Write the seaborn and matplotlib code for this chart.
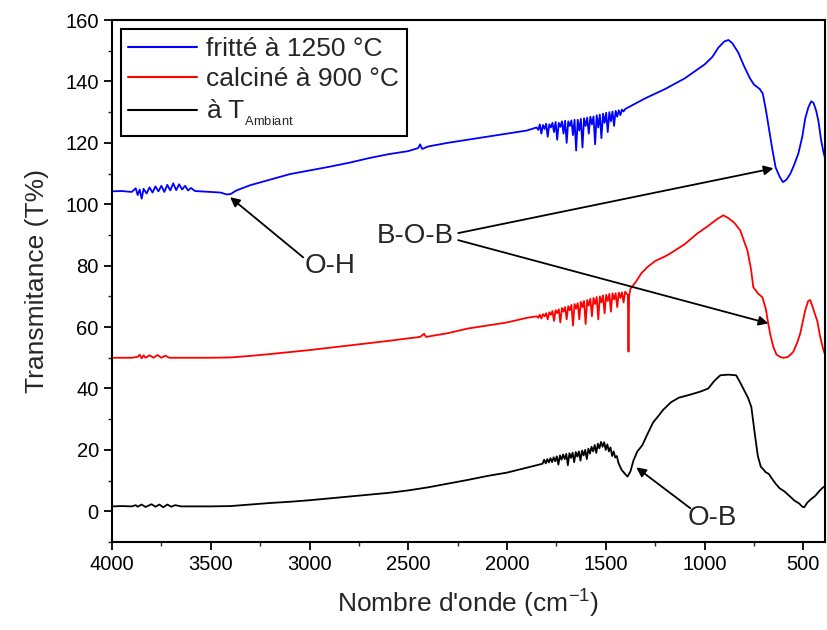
import matplotlib
matplotlib.use("Agg")
import matplotlib.pyplot as plt
from matplotlib.ticker import MultipleLocator
import seaborn as sns
import pandas as pd

# Spectre IR : échantillon fritté à 1250 °C
wn_fritte = [4000, 3950, 3900, 3880, 3870, 3860, 3850, 3840, 3825, 3810, 3795, 3780,
             3765, 3750, 3735, 3720, 3705, 3690, 3675, 3660, 3645, 3630, 3615, 3600,
             3580, 3550, 3500, 3450, 3420, 3400, 3370, 3300, 3200, 3100, 3000, 2900,
             2800, 2700, 2600, 2500, 2450, 2440, 2430, 2400, 2300, 2200, 2100, 2000,
             1900,
             1850, 1842, 1834, 1826, 1818, 1810, 1802, 1794, 1786, 1778, 1770, 1762,
             1754, 1746, 1738, 1730, 1722, 1714, 1706, 1698, 1690, 1682, 1674, 1666,
             1658, 1650, 1642, 1634, 1626, 1618, 1610, 1602, 1594, 1586, 1578, 1570,
             1562, 1554, 1546, 1538, 1530, 1522, 1514, 1506, 1498, 1490, 1482, 1474,
             1466, 1458, 1450, 1442, 1434, 1426, 1418, 1410, 1402,
             1300, 1200, 1100, 1000, 960, 930, 900, 879, 860, 830,
             800, 770, 750, 720, 705, 690, 675, 657, 640, 620, 603, 585, 565, 545, 525,
             505, 490, 474, 460, 448, 435, 423, 410, 398, 390]
t_fritte = [104.2, 104.3, 104.0, 105.2, 103.0, 104.8, 101.8, 105.0, 103.5, 105.5, 103.8, 105.8,
            104.2, 106.0, 104.0, 106.3, 104.5, 106.8, 104.6, 106.5, 104.8, 106.0, 104.5, 105.3,
            104.3, 104.2, 104.0, 103.8, 103.2, 103.3, 104.5, 106.2, 108.0, 109.8, 111.0, 112.2,
            113.5, 115.0, 116.3, 117.3, 118.3, 119.5, 118.0, 118.8, 120.0, 121.0, 122.0, 123.0,
            124.0,
            125.0, 124.2, 126.0, 123.0, 125.8, 124.5, 126.2, 122.0, 126.0, 125.0, 126.5, 123.5,
            126.8, 121.0, 126.5, 125.2, 127.0, 123.0, 127.2, 120.0, 127.0, 125.5, 127.3, 122.5,
            127.5, 117.5, 127.5, 124.0, 127.8, 118.5, 128.0, 125.5, 128.2, 123.0, 128.5, 126.0,
            128.6, 119.5, 129.0, 125.0, 129.2, 121.5, 129.5, 126.5, 129.8, 123.5, 130.0, 127.0,
            130.2, 125.5, 130.4, 128.5, 130.6, 129.0, 130.8, 130.2, 131.0,
            134.5, 137.5, 141.0, 145.5, 148.0, 151.0, 153.0, 153.5, 152.5, 149.5,
            145.0, 141.0, 139.0, 137.5, 136.0, 131.0, 125.0, 118.0, 112.0, 109.0, 107.2, 108.0, 110.0,
            113.0, 116.5, 122.0, 128.0, 131.6, 133.5, 133.0, 130.5, 127.0, 121.0, 117.0, 115.0]

# Spectre IR : échantillon calciné à 900 °C
wn_calcine = [4000, 3900, 3870, 3860, 3850, 3840, 3830, 3810, 3790, 3770, 3750, 3730,
              3710, 3650, 3500, 3400, 3300, 3200, 3000, 2800, 2600, 2440, 2420, 2410,
              2300, 2200, 2000, 1900,
              1850, 1842, 1834, 1826, 1818, 1810, 1802, 1794, 1786, 1778, 1770, 1762,
              1754, 1746, 1738, 1730, 1722, 1714, 1706, 1698, 1690, 1682, 1674, 1666,
              1658, 1650, 1642, 1634, 1626, 1618, 1610, 1602, 1594, 1586, 1578, 1570,
              1562, 1554, 1546, 1538, 1530, 1522, 1514, 1506, 1498, 1490, 1482, 1474,
              1466, 1458, 1450, 1442, 1434, 1426, 1418, 1410, 1402, 1394,
              1388, 1385, 1382, 1375, 1350,
              1320, 1290, 1250, 1200, 1173, 1100, 1036, 980, 940, 905, 880, 850, 819,
              800, 783, 765, 753, 730, 707, 690, 677, 665, 651, 635, 615, 601, 580, 565,
              550, 530, 515, 505, 490, 475, 465, 455, 440, 429, 415, 400, 390]
t_calcine = [50.0, 50.0, 50.3, 51.0, 49.8, 50.8, 50.0, 50.8, 50.0, 50.9, 50.0, 50.7,
             50.0, 50.0, 50.0, 50.1, 50.6, 51.2, 52.5, 54.0, 55.5, 56.8, 57.8, 56.8,
             58.0, 59.5, 61.5, 63.0,
             63.5, 63.0, 64.0, 62.8, 64.2, 63.5, 64.5, 62.5, 64.8, 64.0, 65.2, 62.0,
             65.5, 64.5, 65.8, 61.5, 66.2, 65.0, 66.5, 62.5, 66.8, 65.5, 67.2, 60.5,
             67.5, 66.0, 67.8, 62.5, 68.2, 66.5, 68.5, 61.0, 68.8, 67.0, 69.2, 63.5,
             69.5, 67.5, 69.8, 62.5, 70.0, 68.0, 70.3, 64.5, 70.5, 68.5, 70.8, 65.0,
             71.0, 69.0, 71.0, 66.5, 71.2, 69.5, 71.3, 68.0, 71.5, 70.8,
             70.5, 52.0, 70.0, 72.5, 74.5,
             77.5, 79.5, 81.5, 83.0, 84.0, 87.0, 90.5, 93.0, 95.0, 96.4, 95.5, 94.0, 91.5,
             88.0, 85.0, 79.0, 73.0, 71.0, 69.7, 66.0, 61.0, 57.0, 53.4, 51.0, 50.2, 50.0, 50.2, 51.0,
             52.0, 55.0, 58.0, 61.0, 65.5, 68.5, 68.8, 67.0, 64.0, 62.0, 57.0, 53.0, 51.0]

# Spectre IR : échantillon à température ambiante
wn_ambiant = [4000, 3950, 3900, 3880, 3870, 3850, 3830, 3800, 3780, 3760, 3740, 3720,
              3700, 3680, 3650, 3500, 3400, 3300, 3200, 3100, 3000, 2800, 2600, 2500,
              2400, 2300, 2200, 2100, 2000, 1900, 1850,
              1820, 1812, 1804, 1796, 1788, 1780, 1772, 1764, 1756, 1748, 1740, 1732,
              1724, 1716, 1708, 1700, 1692, 1684, 1676, 1668, 1660, 1652, 1644, 1636,
              1628, 1620, 1612, 1604, 1596, 1588, 1580, 1572, 1564, 1556, 1548, 1540,
              1532, 1524, 1516, 1508, 1500, 1492, 1484, 1476, 1468, 1460, 1452, 1444,
              1436, 1420, 1400, 1390, 1375, 1360, 1340, 1315, 1290,
              1260, 1239, 1210, 1170, 1130, 1072, 1020, 981, 950, 920, 880, 840, 820,
              800, 780, 763, 745, 730, 715, 700, 692, 675, 657, 640, 620, 596, 570, 545,
              520, 505, 495, 480, 460, 440, 420, 405, 395]
t_ambiant = [1.6, 1.7, 1.6, 2.0, 1.5, 2.2, 1.4, 2.3, 1.5, 2.2, 1.3, 2.2,
             1.5, 2.0, 1.6, 1.6, 1.7, 2.2, 2.7, 3.1, 3.6, 4.8, 6.0, 6.8,
             7.8, 9.0, 10.2, 11.5, 12.6, 14.2, 15.0,
             15.5, 16.8, 15.6, 17.0, 15.9, 17.3, 16.0, 17.6, 16.3, 17.9, 15.2, 18.2,
             16.8, 18.5, 17.0, 18.7, 15.0, 18.9, 17.4, 19.1, 16.0, 19.3, 17.8, 19.5,
             16.5, 19.8, 18.2, 20.0, 17.0, 20.4, 18.8, 21.0, 19.5, 21.6, 19.0, 22.0,
             20.5, 22.6, 21.0, 22.5, 20.0, 21.8, 19.5, 20.8, 18.0, 19.5, 17.5, 18.0,
             15.8, 13.5, 12.0, 11.3, 13.0, 16.5, 19.5, 21.5, 25.0,
             29.0, 30.6, 33.0, 35.5, 37.0, 38.0, 39.0, 40.0, 42.5, 44.3, 44.5, 44.3, 42.0,
             39.5, 37.0, 34.0, 25.0, 18.0, 14.5, 13.5, 12.8, 12.2, 10.5, 9.0, 7.5, 6.5, 5.0, 3.5,
             2.5, 1.5, 1.3, 2.8, 4.0, 5.0, 6.5, 7.5, 8.0]

labels = ["fritté à 1250 °C", "calciné à 900 °C", r"à T$_{_{\mathregular{Ambiant}}}$"]
colors = ["#0000ff", "#ff0000", "#000000"]

x_ticks = [4000, 3500, 3000, 2500, 2000, 1500, 1000, 500]
y_ticks = [0, 20, 40, 60, 80, 100, 120, 140, 160]

sns.set_style("ticks")
plt.rcParams["font.family"] = ["Liberation Sans", "DejaVu Sans"]
plt.rcParams["mathtext.fontset"] = "custom"
plt.rcParams["mathtext.rm"] = "Liberation Sans"
plt.rcParams["mathtext.it"] = "Liberation Sans"

fig = plt.figure(figsize=(8.28, 6.30), dpi=100)
ax = fig.add_axes([112 / 828, 1 - 542 / 630, (825 - 112) / 828, (542 - 20) / 630])

series = [(wn_fritte, t_fritte), (wn_calcine, t_calcine), (wn_ambiant, t_ambiant)]
for (wn, tr), lab, col in zip(series, labels, colors):
    df = pd.DataFrame({"wn": wn, "T": tr})
    sns.lineplot(data=df, x="wn", y="T", ax=ax, color=col, lw=1.3,
                 sort=False, estimator=None, label=lab)

ax.set_xlim(4000, 390)
ax.set_ylim(-10, 160)
ax.set_xticks(x_ticks)
ax.set_yticks(y_ticks)
ax.xaxis.set_minor_locator(MultipleLocator(250))
ax.yaxis.set_minor_locator(MultipleLocator(10))
ax.tick_params(axis="both", which="major", direction="out", length=6, width=1.3,
               labelsize=14.5, colors="black", top=False, right=False)
ax.tick_params(axis="both", which="minor", direction="out", length=3, width=1.0,
               top=False, right=False)
for sp in ax.spines.values():
    sp.set_visible(True)
    sp.set_linewidth(1.5)
    sp.set_color("black")

ax.set_xlabel(r"Nombre d'onde (cm$^{\mathregular{-1}}$)", fontsize=19, labelpad=10)
ax.set_ylabel("Transmitance (T%)", fontsize=19, labelpad=12)

leg = ax.legend(loc="upper left", bbox_to_anchor=(0.012, 0.983), fontsize=19,
                frameon=True, fancybox=False, edgecolor="black", framealpha=1,
                handlelength=2.6, handletextpad=0.35, borderpad=0.3,
                labelspacing=0.25, borderaxespad=0.0)
leg.get_frame().set_linewidth(1.5)
for line in leg.get_lines():
    line.set_linewidth(1.5)

arrow = dict(arrowstyle="-|>", color="black", lw=1.3, mutation_scale=14,
             shrinkA=0, shrinkB=0)
ax.annotate("", xy=(3402, 102.3), xytext=(3032, 82.7), arrowprops=arrow)
ax.text(2896, 80, "O-H", fontsize=20, ha="center", va="center")

ax.text(2465, 89.6, "B-O-B", fontsize=20, ha="center", va="center")
ax.annotate("", xy=(651, 111.7), xytext=(2247, 90.6), arrowprops=arrow)
ax.annotate("", xy=(677, 61.2), xytext=(2247, 88.3), arrowprops=arrow)

ax.annotate("", xy=(1345, 14.3), xytext=(1072, 1.0), arrowprops=arrow)
ax.text(960, -2.3, "O-B", fontsize=20, ha="center", va="center")

fig.savefig("out.png", dpi=100)
